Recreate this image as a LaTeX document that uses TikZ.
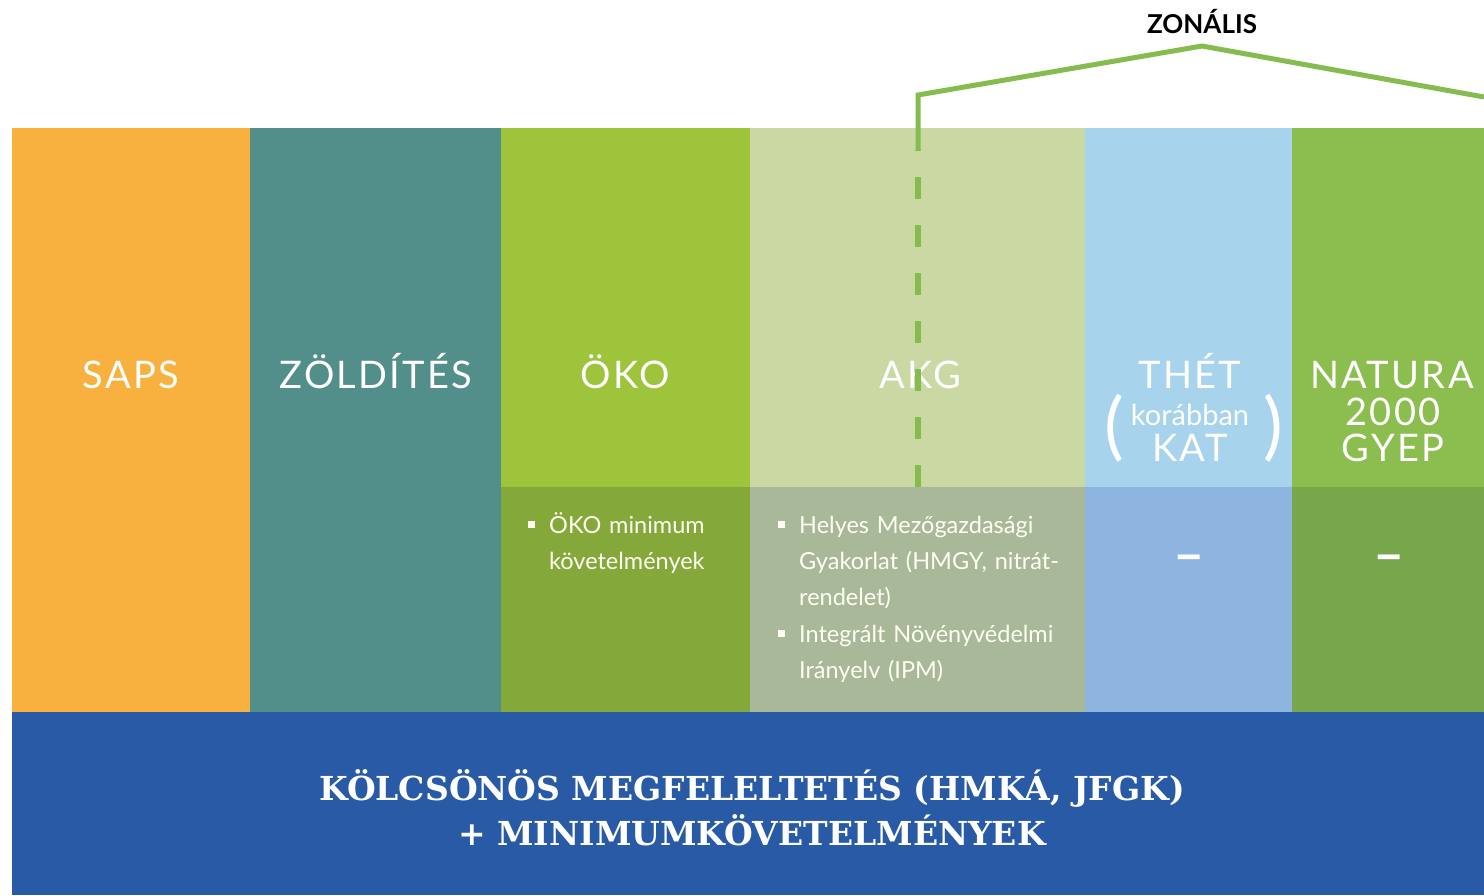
\documentclass[tikz,border=0pt]{standalone}
\usepackage{fontspec}
\setmainfont{Lato}
\newfontfamily\colfont[LetterSpace=6]{Lato}
\newfontfamily\bandfont{DejaVu Serif}
\usetikzlibrary{positioning}
\definecolor{sapsC}{HTML}{F8B13F}
\definecolor{zoldC}{HTML}{528E8A}
\definecolor{okoC}{HTML}{9EC43B}
\definecolor{okoLo}{HTML}{84A83A}
\definecolor{akgC}{HTML}{CAD8A4}
\definecolor{akgLo}{HTML}{A9B898}
\definecolor{thetC}{HTML}{A8D3EC}
\definecolor{thetLo}{HTML}{8EB5DF}
\definecolor{natC}{HTML}{8BBD4F}
\definecolor{natLo}{HTML}{77A74A}
\definecolor{bandC}{HTML}{285AA6}
\definecolor{zonC}{HTML}{86BC4F}
\tikzset{%
collabel/.style={text=white,anchor=base,inner sep=0pt,
                 font=\colfont\fontsize{38}{37}\selectfont},
item/.style={anchor=base west,text=white!95!yellow,inner sep=0pt,text width=280pt,
             font=\fontsize{23.5}{36}\selectfont},
bullet/.style={fill=white!95!yellow,minimum size=7pt,inner sep=0pt},
zonal/.style={draw=zonC,line width=5pt},
}

\begin{document}
\begin{tikzpicture}[x=1pt,y=-1pt]
\useasboundingbox (0,0) rectangle (1484,895);

% columns
\fill[sapsC]  (12,128)   rectangle (250,712);
\fill[zoldC]  (250,128)  rectangle (501,712);
\fill[okoC]   (501,128)  rectangle (750,487);
\fill[okoLo]  (501,487)  rectangle (750,712);
\fill[akgC]   (750,128)  rectangle (1085,487);
\fill[akgLo]  (750,487)  rectangle (1085,712);
\fill[thetC]  (1085,128) rectangle (1292,487);
\fill[thetLo] (1085,487) rectangle (1292,712);
\fill[natC]   (1292,128) rectangle (1484,487);
\fill[natLo]  (1292,487) rectangle (1484,712);
\fill[bandC]  (12,712)   rectangle (1484,895);

% column titles
\node[collabel] (saps) at (131,388) {SAPS};
\node[collabel] (zold) at (376,388) {ZÖLDÍTÉS};
\node[collabel] (oko)  at (625,388) {ÖKO};
\node[collabel] (akg)  at (920,388) {AKG};
\node[collabel] (thet) at (1190,388) {THÉT};
\node[collabel,font=\fontsize{29}{37}\selectfont] (korabban) at (1190,425) {korábban};
\node[collabel] (kat)  at (1190,461) {KAT};
\node[collabel,anchor=center,font=\fontsize{74}{74}\selectfont] (lpar) at (1114,428) {(};
\node[collabel,anchor=center,font=\fontsize{74}{74}\selectfont] (rpar) at (1273,428) {)};
\node[collabel] (natura) at (1392,388) {NATURA};
\node[collabel] (n2000)  at (1393,425) {2000};
\node[collabel] (gyep)   at (1393,461) {GYEP};

% lower items
\node[bullet] (b1) at (531,524) {};
\node[item] (okomin) at (549,533) {ÖKO minimum\\követelmények};
\node[bullet] (b2) at (781,524) {};
\node[item] (hmgy) at (799,533) {Helyes Mezőgazdasági\\Gyakorlat (HMGY, nitrát-\\rendelet)};
\node[bullet] (b3) at (781,633) {};
\node[item] (ipm) at (799,642) {Integrált Növényvédelmi\\Irányelv (IPM)};
\node[collabel,anchor=center,font=\bfseries\fontsize{54}{54}\selectfont] (thetdash) at (1189,564) {–};
\node[collabel,anchor=center,font=\bfseries\fontsize{54}{54}\selectfont] (natdash) at (1389,564) {–};

% band
\node[text=white,align=center,inner sep=0pt,
      font=\bandfont\bfseries\fontsize{33}{45}\selectfont] (kolcs) at (752,808)
      {KÖLCSÖNÖS MEGFELELTETÉS (HMKÁ, JFGK)\\+ MINIMUMKÖVETELMÉNYEK};

% zonalis bracket
\coordinate (zbot)  at (918,487);
\coordinate (zmid)  at (918,150);
\coordinate (zcorn) at (918,95);
\coordinate (zapex) at (1202,46);
\coordinate (zend)  at (1484,97);
\draw[zonal,line width=6pt,dash pattern=on 22pt off 26pt] (zbot) -- (zmid);
\draw[zonal] (zmid) -- (zcorn) -- (zapex) -- (zend);
\node[font=\bfseries\fontsize{26}{26}\selectfont,inner sep=0pt] (zonalis) at (1202,22) {ZONÁLIS};
\end{tikzpicture}
\end{document}
